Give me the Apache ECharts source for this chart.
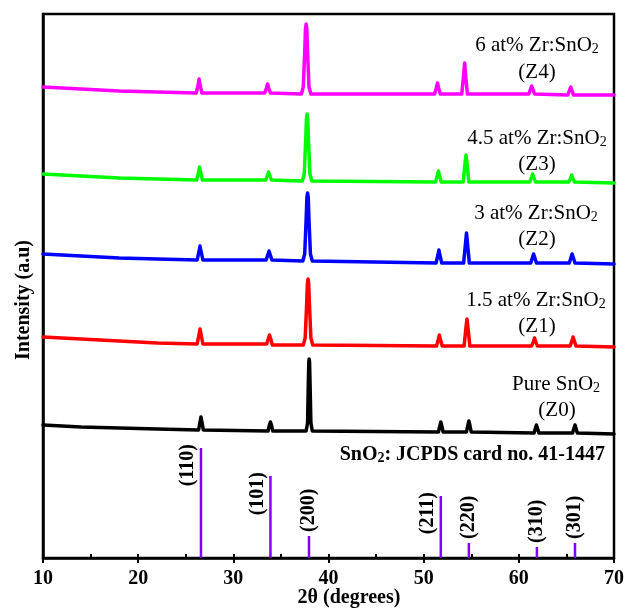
<!DOCTYPE html>
<html>
<head>
<meta charset="utf-8">
<script src="https://cdn.jsdelivr.net/npm/echarts@6/dist/echarts.min.js"></script>
<style>
  html, body { margin: 0; padding: 0; background: #fff; }
  #chart { width: 633px; height: 608px; }
</style>
</head>
<body>
<div id="chart"></div>
<script>
// XRD patterns, [2theta, intensity (a.u., stacked)]
var z4 = [[10,471],[14,469],[18,467],[22,466],[26.1,465],[26.28,472],[26.4,479],[26.52,472],[26.7,465],
	[33.3,465],[33.48,470],[33.6,474],[33.72,470],[33.9,465],
	[37.15,464],[37.35,471],[37.5,506],[37.58,529],[37.65,534],[37.72,529],[37.8,506],[37.95,471],[38.15,464],
	[51.15,464],[51.33,470],[51.45,475],[51.57,470],[51.75,464],
	[54.0,464],[54.18,481],[54.3,495],[54.42,481],[54.6,464],
	[61.05,464],[61.23,469],[61.35,472],[61.47,469],[61.65,464],
	[65.15,463],[65.33,468],[65.45,471],[65.57,468],[65.75,463],[70,463]];
var z3 = [[10,384],[14,382],[18,380],[22,379],[26.15,378],[26.35,386],[26.45,391],[26.55,386],[26.75,378],
	[33.4,378],[33.6,383],[33.7,386],[33.8,383],[34.0,378],
	[37.25,377],[37.45,384],[37.6,417],[37.68,439],[37.75,444],[37.82,439],[37.9,417],[38.05,384],[38.25,377],
	[51.25,376],[51.45,383],[51.55,387],[51.65,383],[51.85,376],
	[54.15,376],[54.35,395],[54.45,403],[54.55,395],[54.75,376],
	[61.15,376],[61.35,381],[61.45,384],[61.55,381],[61.75,376],
	[65.25,376],[65.45,380],[65.55,383],[65.65,380],[65.85,376],[70,375]];
var z2 = [[10,304],[14,302],[18,300],[22,299],[26.2,298],[26.4,307],[26.5,312],[26.6,307],[26.8,298],
	[33.45,298],[33.65,304],[33.75,307],[33.85,304],[34.05,298],
	[37.3,297],[37.5,304],[37.65,338],[37.73,361],[37.8,365],[37.87,361],[37.95,338],[38.1,304],[38.3,297],
	[51.3,295],[51.5,303],[51.6,308],[51.7,303],[51.9,295],
	[54.2,295],[54.4,315],[54.5,325],[54.6,315],[54.8,295],
	[61.25,295],[61.45,301],[61.55,304],[61.65,301],[61.85,295],
	[65.3,295],[65.5,301],[65.6,304],[65.7,301],[65.9,295],[70,294]];
var z1 = [[10,221],[14,219],[18,217],[22,215],[26.2,214],[26.4,224],[26.5,229],[26.6,224],[26.8,214],
	[33.5,214],[33.7,220],[33.8,223],[33.9,220],[34.1,213],
	[37.35,213],[37.55,220],[37.7,253],[37.78,274],[37.85,279],[37.92,274],[38.0,253],[38.15,220],[38.35,213],
	[51.35,212],[51.55,219],[51.65,223],[51.75,219],[51.95,212],
	[54.25,212],[54.45,231],[54.55,239],[54.65,231],[54.85,212],
	[61.35,212],[61.55,217],[61.65,220],[61.75,217],[61.95,212],
	[65.4,212],[65.6,218],[65.7,221],[65.8,218],[66.0,212],[70,211]];
var z0 = [[10,133],[14,131],[18,130],[22,129],[26.35,128],[26.5,136],[26.6,141],[26.7,136],[26.85,128],
	[33.65,127],[33.8,133],[33.9,136],[34.0,133],[34.15,127],
	[37.65,127],[37.8,135],[37.88,175],[37.93,196],[37.97,199],[38.01,196],[38.06,175],[38.15,135],[38.3,127],
	[51.55,126],[51.7,132],[51.8,136],[51.9,132],[52.05,126],
	[54.5,126],[54.65,133],[54.75,137],[54.85,133],[55.0,126],
	[61.6,125],[61.75,130],[61.85,133],[61.95,130],[62.1,125],
	[65.65,125],[65.8,130],[65.9,133],[66.0,130],[66.15,125],[70,124]];

// JCPDS 41-1447 reference lines
var stickPos = [26.6, 33.9, 37.95, 51.8, 54.75, 61.9, 65.9];
var stickHeight = [110, 82, 22, 62, 15, 11, 15];
var stickHkl = ['(110)', '(101)', '(200)', '(211)', '(220)', '(310)', '(301)'];

var serif = '"Liberation Serif", "Times New Roman", serif';

var myChart = echarts.init(document.getElementById('chart'));

var sticks = [];
for (var i = 0; i < stickPos.length; i++) {
	var tall = stickHeight[i] > 50;
	sticks.push({
		value: [stickPos[i], stickHeight[i]],
		label: {
			show: true,
			formatter: stickHkl[i],
			position: 'top',
			rotate: 90,
			distance: tall ? 4 : 4,
			align: tall ? 'right' : 'left',
			verticalAlign: 'middle',
			offset: tall ? [0, -13] : [0, 0],
			fontFamily: serif,
			fontWeight: 'bold',
			fontSize: 20,
			color: '#000'
		}
	});
}

function curve(data, color) {
	return {
		type: 'line',
		data: data,
		showSymbol: false,
		smooth: false,
		silent: true,
		lineStyle: { color: color, width: 3.5, join: 'round', cap: 'round' },
		z: 3
	};
}

// legend texts at the right of each curve
function note(text, x, y) {
	return {
		type: 'text',
		x: x,
		y: y,
		style: {
			text: text,
			align: 'center',
			verticalAlign: 'middle',
			fontFamily: serif,
			fontSize: 21,
			fill: '#000',
			rich: {
				s: { fontFamily: serif, fontSize: 14, verticalAlign: 'bottom', padding: [9, 0, 0, 0] }
			}
		}
	};
}

var option = {
	animation: false,
	backgroundColor: '#fff',
	grid: {
		left: 43,
		right: 19,
		top: 14,
		bottom: 50,
		show: true,
		borderColor: '#000',
		borderWidth: 2.5
	},
	xAxis: [{
		type: 'value',
		min: 10,
		max: 70,
		interval: 10,
		axisLine: { lineStyle: { color: '#000', width: 2.5 } },
		axisTick: { show: true, inside: false, length: 5, lineStyle: { color: '#000', width: 2 } },
		axisLabel: {
			margin: 11,
			fontFamily: serif,
			fontWeight: 'bold',
			fontSize: 20,
			color: '#000'
		},
		splitLine: { show: false }
	}, {
		type: 'value',
		position: 'bottom',
		min: 10,
		max: 70,
		interval: 5,
		axisLine: { show: false },
		axisTick: { show: true, inside: true, length: 4, lineStyle: { color: '#000', width: 2 } },
		axisLabel: { show: false },
		splitLine: { show: false }
	}],
	yAxis: {
		type: 'value',
		min: 0,
		max: 544,
		axisLine: { show: true, lineStyle: { color: '#000', width: 2.5 } },
		axisTick: { show: false },
		axisLabel: { show: false },
		splitLine: { show: false }
	},
	series: [
		curve(z0, '#000000'),
		curve(z1, '#ff0000'),
		curve(z2, '#0000ff'),
		curve(z3, '#00ff00'),
		curve(z4, '#ff00ff'),
		{
			type: 'bar',
			data: sticks,
			barWidth: 2.5,
			silent: true,
			itemStyle: { color: '#8000ff' },
			z: 2
		}
	],
	graphic: [
		note('6 at% Zr:SnO{s|2}', 537, 45),
		note('(Z4)', 537, 72),
		note('4.5 at% Zr:SnO{s|2}', 537, 138),
		note('(Z3)', 537, 164),
		note('3 at% Zr:SnO{s|2}', 536, 213),
		note('(Z2)', 537, 239),
		note('1.5 at% Zr:SnO{s|2}', 536, 300),
		note('(Z1)', 537, 326),
		note('Pure SnO{s|2}', 556, 384),
		note('(Z0)', 557, 410),
		{
			type: 'text',
			x: 605,
			y: 455,
			style: {
				text: 'SnO{s|2}: JCPDS card no. 41-1447',
				align: 'right',
				verticalAlign: 'middle',
				fontFamily: serif,
				fontWeight: 'bold',
				fontSize: 20,
				fill: '#000',
				rich: {
					s: { fontFamily: serif, fontWeight: 'bold', fontSize: 14, verticalAlign: 'bottom', padding: [6, 0, 0, 0] }
				}
			}
		},
		{
			type: 'text',
			x: 24,
			y: 300,
			rotation: Math.PI / 2,
			style: {
				text: 'Intensity (a.u)',
				align: 'center',
				verticalAlign: 'middle',
				fontFamily: serif,
				fontWeight: 'bold',
				fontSize: 20,
				fill: '#000'
			}
		},
		{
			type: 'text',
			x: 349,
			y: 598,
			style: {
				text: '2θ (degrees)',
				align: 'center',
				verticalAlign: 'middle',
				fontFamily: serif,
				fontWeight: 'bold',
				fontSize: 20,
				fill: '#000'
			}
		}
	]
};

myChart.setOption(option);
</script>
</body>
</html>
